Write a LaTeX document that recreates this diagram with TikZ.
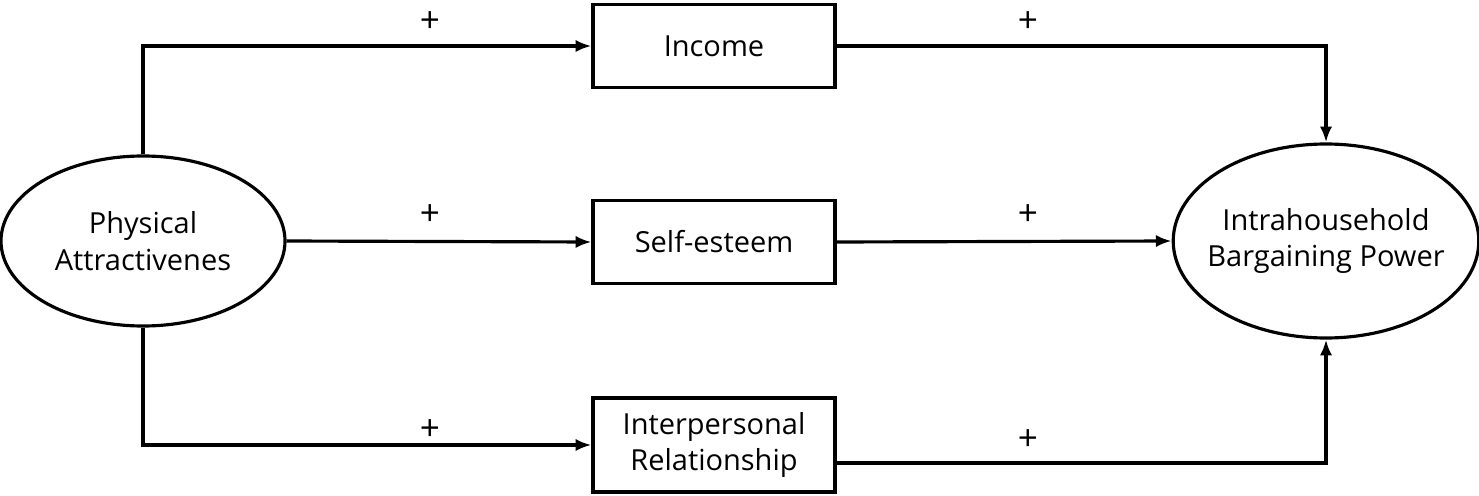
\documentclass[tikz,border=0pt]{standalone}
\usepackage{fontspec}
\setmainfont{Open Sans}
\usetikzlibrary{shapes.geometric,arrows.meta}
\tikzset{%
  plusarrow/.style = {-{Latex[length=9pt,width=7pt]},line width=1.8pt},
  e/.style = {ellipse,draw,line width=1.8pt,align=center,inner sep=-6pt},
  r/.style = {rectangle,draw,line width=1.8pt,align=center,
        minimum width=242*0.02cm,inner sep=0pt},
  sign/.style = {font=\fontsize{20}{22}\selectfont}
}
\begin{document}
\begin{tikzpicture}[x=0.02cm,y=-0.02cm]\fontsize{16.5}{21}\selectfont
   \useasboundingbox (0,0) rectangle (1479,496);
   \node[e,minimum width=284*0.02cm,minimum height=170*0.02cm] (phys) at (143,241) {Physical\\Attractivenes};
   \node[e,minimum width=304*0.02cm,minimum height=194*0.02cm] (power) at (1326,241) {Intrahousehold\\Bargaining Power};
   \node[r,minimum height=83*0.02cm] (income) at (714,46) {Income};
   \node[r,minimum height=83*0.02cm] (esteem) at (714,242) {Self-esteem};
   \node[r,minimum height=94*0.02cm] (inter) at (714,445) {Interpersonal\\Relationship};

   \draw[plusarrow] (phys.north) |- (income.west);
   \draw[plusarrow] (phys.east) -- (esteem.west);
   \draw[plusarrow] (phys.south) |- (inter.west);
   \draw[plusarrow] (income.east) -| (power.north);
   \draw[plusarrow] (esteem.east) -- (power.west);
   \draw[plusarrow] (inter.east |- 0,463) -| (power.south);

   \node[sign] (s1) at (430,22) {+};
   \node[sign] (s2) at (430,215) {+};
   \node[sign] (s3) at (430,430) {+};
   \node[sign] (s4) at (1028,22) {+};
   \node[sign] (s5) at (1028,215) {+};
   \node[sign] (s6) at (1028,440) {+};
\end{tikzpicture}
\end{document}
